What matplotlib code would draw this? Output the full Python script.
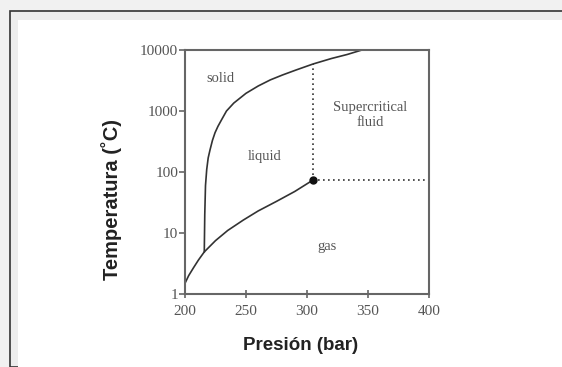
import matplotlib.pyplot as plt
from matplotlib.patches import Rectangle

# phase boundaries (pressure in bar, temperature in C)
solid_liq_p = [215.8, 216.2, 216.8, 217.8, 219, 220.5, 222.5, 224.6, 227, 230, 234,
               240, 250, 260, 270, 280, 291, 305, 320, 333, 345]
solid_liq_t = [4.9, 20, 60, 110, 170, 230, 330, 440, 560, 720, 1000,
               1350, 1950, 2570, 3240, 3900, 4700, 5900, 7250, 8450, 10000]

liq_gas_p = [200, 203, 207, 211, 215.8, 225, 235, 247.8, 260, 275, 290, 305]
liq_gas_t = [1.5, 2.0, 2.7, 3.6, 4.9, 7.5, 11, 16.3, 23, 33, 48, 74]

crit_p, crit_t = 305, 74
crit_top_t = 5900

x_ticks = [200, 250, 300, 350, 400]
y_ticks = [1, 10, 100, 1000, 10000]

regions = ["solid", "liquid", "Supercritical\nfluid", "gas"]
region_p = [228.7, 265.6, 352, 316]
region_t = [3450, 178, 860, 6.0]

fig = plt.figure(figsize=(5.62, 3.67), dpi=100, facecolor='#f1f1f1')
fig.patches.append(Rectangle((10 / 562, 0), 1, 1 - 11 / 367, transform=fig.transFigure,
                             facecolor='#ededed', edgecolor='#333333', lw=1.2, zorder=-2))
fig.patches.append(Rectangle((18 / 562, 0), 1, 1 - 20 / 367, transform=fig.transFigure,
                             facecolor='white', edgecolor='none', zorder=-1))

ax = fig.add_axes([185 / 562, 1 - 294 / 367, 244 / 562, 244 / 367])
ax.set_facecolor('white')

line_col = '#333333'
ax.plot(solid_liq_p, solid_liq_t, color=line_col, lw=1.2)
ax.plot(liq_gas_p, liq_gas_t, color=line_col, lw=1.2)
ax.plot([crit_p, crit_p], [crit_t, crit_top_t], color=line_col, lw=1.2, ls=(0, (1, 2)))
ax.plot([crit_p, 400], [crit_t, crit_t], color=line_col, lw=1.2, ls=(0, (1, 2)))
ax.plot([crit_p], [crit_t], 'o', color='#111111', ms=5)

ax.set_yscale('log')
ax.set_xlim(200, 400)
ax.set_ylim(1, 10000)
ax.set_xticks(x_ticks)
ax.set_yticks(y_ticks)
ax.set_yticklabels([str(t) for t in y_ticks])
ax.minorticks_off()

serif = ['Liberation Serif', 'DejaVu Serif']
for lab in ax.get_xticklabels() + ax.get_yticklabels():
    lab.set_family(serif)
    lab.set_fontsize(11)
    lab.set_color('#555555')
ax.tick_params(axis='y', direction='out', length=4, width=1.2, color='#666666', pad=1)
ax.tick_params(axis='x', direction='inout', length=6, width=1.2, color='#666666', pad=5)
for s in ax.spines.values():
    s.set_color('#666666')
    s.set_linewidth(1.5)

for name, p, t in zip(regions, region_p, region_t):
    ax.text(p, t, name, family=serif, fontsize=10.5, color='#555555',
            ha='center', va='center', linespacing=1.25)

fig.text(301 / 562, 1 - 345 / 367, "Presión (bar)", family='Liberation Sans',
         weight='bold', fontsize=13.5, color='#222222', ha='center', va='center')
fig.text(112 / 562, 1 - 200 / 367, "Temperatura (˚C)", family='Liberation Sans',
         weight='bold', fontsize=14.5, color='#222222', ha='center', va='center',
         rotation=90)

fig.savefig('out.png', dpi=100, facecolor=fig.get_facecolor())
